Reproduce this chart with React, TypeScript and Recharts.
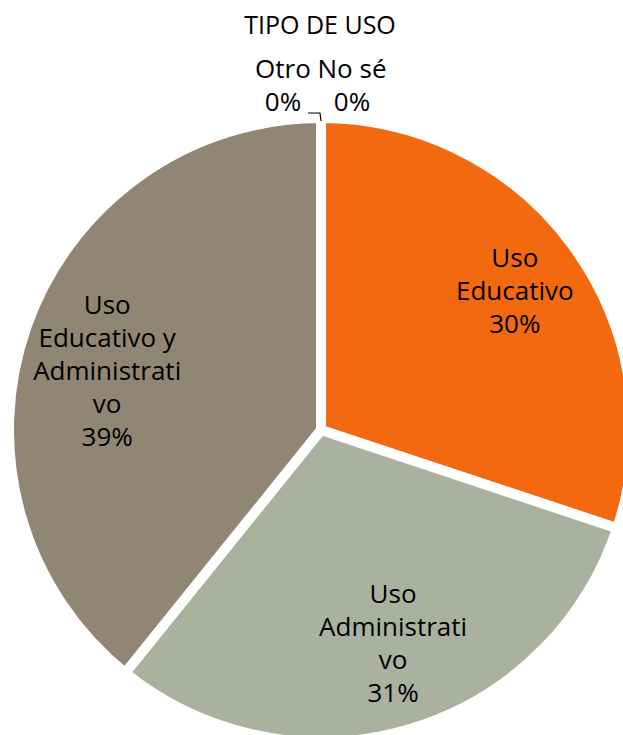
import { PieChart, Pie, Cell } from 'recharts';

const categories = [
  'Uso Educativo',
  'Uso Administrativo',
  'Uso Educativo y Administrativo',
  'Otro',
  'No sé',
];
const shares = [30.1, 30.7, 39.2, 0, 0];
// line breaks as they appear in the picture
const labelLines = [
  ['Uso', 'Educativo'],
  ['Uso', 'Administrati', 'vo'],
  ['Uso', 'Educativo y', 'Administrati', 'vo'],
  ['Otro'],
  ['No sé'],
];
const colors = ['#F3690F', '#AAB19F', '#918574', '#7F7F7F', '#5B9BD5'];

const data = categories.map((name, i) => ({
  name,
  value: shares[i],
  lines: labelLines[i],
}));

const FONT = '"Open Sans", sans-serif';
const LINE_H = 33;
const RAD = Math.PI / 180;

// best-fit placement like the source: radius factor and angle shift per slice
const labelFit = [
  { k: 0.766, da: 0 },
  { k: 0.718, da: 2.4 },
  { k: 0.712, da: 3.7 },
];

function MultiLine({ x, y, lines, gap }: { x: number; y: number; lines: string[]; gap: number }) {
  return (
    <text
      x={x}
      y={y}
      textAnchor="middle"
      dominantBaseline="central"
      fontFamily={FONT}
      fontSize={26}
      fill="#000"
    >
      {lines.map((t, i) => (
        <tspan key={i} x={x} dy={i === 0 ? 0 : gap}>
          {t}
        </tspan>
      ))}
    </text>
  );
}

function renderLabel(props: any) {
  const { cx, cy, midAngle, outerRadius, percent, index } = props;
  const pct = `${Math.round(percent * 100)}%`;
  const lines: string[] = [...data[index].lines, pct];

  if (data[index].value === 0) {
    // empty slices at the top: labels outside, side by side
    const isLeft = index === 3;
    const x = isLeft ? cx - 38 : cx + 31;
    return (
      <g key={`lbl-${index}`}>
        <MultiLine x={x} y={cy - 362} lines={lines} gap={LINE_H} />
        {isLeft && (
          <polyline
            points={`${cx - 13},${cy - 317} ${cx - 1},${cy - 317} ${cx},${cy - 309}`}
            fill="none"
            stroke="#000"
            strokeWidth={1.2}
          />
        )}
      </g>
    );
  }

  const fit = labelFit[index];
  const r = outerRadius * fit.k;
  const a = (midAngle + fit.da) * RAD;
  const x = cx + r * Math.cos(-a);
  const y = cy + r * Math.sin(-a);
  const y0 = y - ((lines.length - 1) * LINE_H) / 2;
  return (
    <g key={`lbl-${index}`}>
      <MultiLine x={x} y={y0} lines={lines} gap={LINE_H} />
    </g>
  );
}

export default function App() {
  return (
    <div style={{ position: 'absolute', left: 0, top: 0, width: 623, height: 735, background: '#fff' }}>
      <PieChart width={623} height={735} margin={{ top: 0, right: 0, bottom: 0, left: 0 }}>
        <text
          x={320}
          y={24}
          textAnchor="middle"
          dominantBaseline="central"
          fontFamily={FONT}
          fontSize={25}
          fill="#000"
        >
          TIPO DE USO
        </text>
        <Pie
          data={data}
          dataKey="value"
          nameKey="name"
          cx={321}
          cy={430}
          outerRadius={312}
          startAngle={90}
          endAngle={-270}
          stroke="#fff"
          strokeWidth={10}
          label={renderLabel}
          labelLine={false}
          isAnimationActive={false}
        >
          {data.map((d, i) => (
            <Cell key={d.name} fill={colors[i]} />
          ))}
        </Pie>
      </PieChart>
    </div>
  );
}
